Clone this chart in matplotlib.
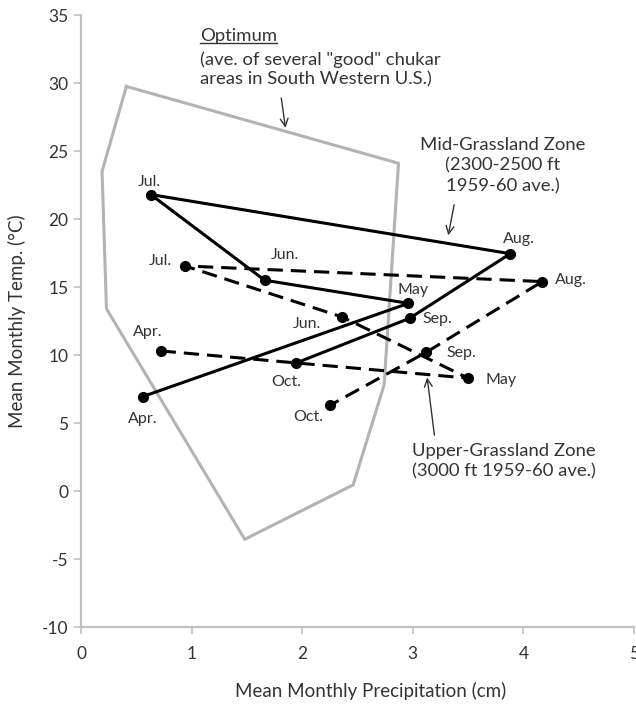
import matplotlib.pyplot as plt
from matplotlib.lines import Line2D

plt.rcParams['font.family'] = ['Lato', 'DejaVu Sans']
plt.rcParams['axes.unicode_minus'] = False

months = ["Apr.", "May", "Jun.", "Jul.", "Aug.", "Sep.", "Oct."]

# Mid-Grassland Zone (2300-2500 ft, 1959-60 ave.)
mid_precip = [0.56, 2.96, 1.66, 0.63, 3.88, 2.97, 1.94]
mid_temp = [6.95, 13.8, 15.5, 21.8, 17.45, 12.7, 9.4]

# Upper-Grassland Zone (3000 ft, 1959-60 ave.)
upper_precip = [0.72, 3.50, 2.36, 0.94, 4.17, 3.12, 2.25]
upper_temp = [10.3, 8.3, 12.8, 16.55, 15.4, 10.2, 6.3]

# Optimum region outline
opt_precip = [0.41, 2.87, 2.74, 2.46, 1.48, 0.23, 0.19, 0.41]
opt_temp = [29.75, 24.1, 7.8, 0.45, -3.55, 13.4, 23.5, 29.75]

# label offsets (pixels) for each month
mid_offsets = [(0, -22), (5, 13), (20, 25), (-1, 13), (9, 15), (28, -1), (-9, -19)]
upper_offsets = [(-13, 19), (33, -2), (-35, -7), (-25, 5), (29, 2), (35, -1), (-22, -12)]

fig = plt.figure(figsize=(6.36, 7.05), dpi=100)
ax = fig.add_axes([0.1274, 0.1106, 0.8696, 0.8681])

ax.plot(opt_precip, opt_temp, color="#b3b3b3", lw=2.2, zorder=1)
ax.plot(mid_precip, mid_temp, color="black", lw=2.2, marker="o", ms=7, zorder=3)
ax.plot(upper_precip, upper_temp, color="black", lw=2.2, ls=(0, (5, 2.6)),
        marker="o", ms=7, zorder=3)

lab_kw = dict(textcoords="offset pixels", ha="center", va="center",
              fontsize=11.5, color="#333333")
for m, x, y, off in zip(months, mid_precip, mid_temp, mid_offsets):
    ax.annotate(m, (x, y), xytext=off, **lab_kw)
for m, x, y, off in zip(months, upper_precip, upper_temp, upper_offsets):
    ax.annotate(m, (x, y), xytext=off, **lab_kw)

txt_kw = dict(fontsize=13.3, color="#333333")
opt_title = ax.text(1.075, 33.45, "Optimum", ha="left", va="center", **txt_kw)
ax.text(1.075, 31.0, "(ave. of several \"good\" chukar\nareas in South Western U.S.)",
        ha="left", va="center", linespacing=1.25, **txt_kw)
ax.text(3.81, 23.95, "Mid-Grassland Zone\n(2300-2500 ft\n1959-60 ave.)",
        ha="center", va="center", multialignment="center", linespacing=1.35, **txt_kw)
ax.text(2.99, 2.17, "Upper-Grassland Zone\n(3000 ft 1959-60 ave.)",
        ha="left", va="center", linespacing=1.3, **txt_kw)

arrow_kw = dict(arrowstyle="->", color="#333333", lw=1.0, mutation_scale=14)
ax.annotate("", xy=(1.852, 26.5), xytext=(1.807, 29.1), arrowprops=arrow_kw)
ax.annotate("", xy=(3.315, 18.6), xytext=(3.378, 21.25), arrowprops=arrow_kw)
ax.annotate("", xy=(3.126, 8.55), xytext=(3.198, 3.9), arrowprops=arrow_kw)

ax.set_xlim(0, 5)
ax.set_ylim(-10, 35)
ax.set_xticks(range(0, 6))
ax.set_yticks(range(-10, 36, 5))
for s in ("top", "right"):
    ax.spines[s].set_visible(False)
for s in ("left", "bottom"):
    ax.spines[s].set_color("#c0c0c0")
    ax.spines[s].set_linewidth(1.6)
ax.tick_params(direction="out", length=5, width=1.2, color="#c0c0c0",
               labelcolor="#333333", labelsize=12.5)
ax.tick_params(axis="x", pad=9)
ax.tick_params(axis="y", pad=4)
ax.set_xlabel("Mean Monthly Precipitation (cm)", fontsize=13.5, color="#333333")
ax.set_ylabel("Mean Monthly Temp. (°C)", fontsize=13.5, color="#333333")
ax.xaxis.set_label_coords(0.523, -0.09)
ax.yaxis.set_label_coords(-0.099, 0.5)

# underline the "Optimum" heading
fig.canvas.draw()
bb = opt_title.get_window_extent().transformed(fig.transFigure.inverted())
fig.add_artist(Line2D([bb.x0, bb.x1], [bb.y0 + 0.002, bb.y0 + 0.002],
                      transform=fig.transFigure, color="#333333", lw=1.0))

fig.savefig("out.png", dpi=100)
